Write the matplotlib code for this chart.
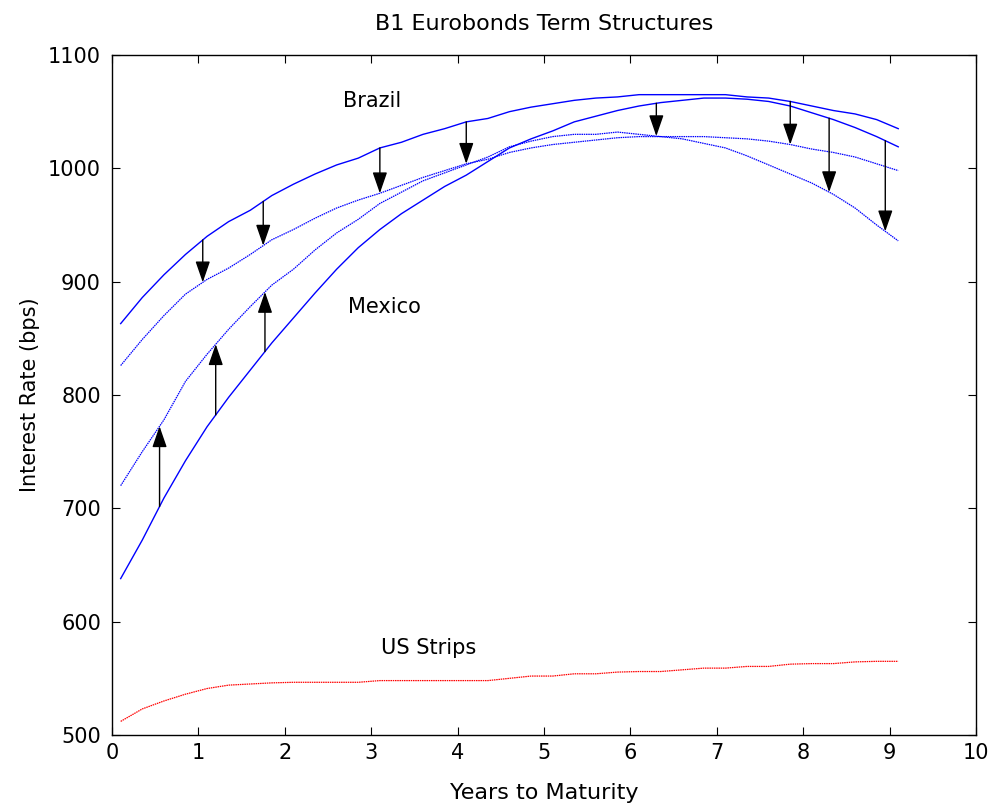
import numpy as np
import matplotlib.pyplot as plt

# Maturity grid (years)
years = np.array([0.1, 0.35, 0.6, 0.85, 1.1, 1.35, 1.6, 1.85, 2.1, 2.35, 2.6, 2.85,
                  3.1, 3.35, 3.6, 3.85, 4.1, 4.35, 4.6, 4.85, 5.1, 5.35, 5.6, 5.85,
                  6.1, 6.35, 6.6, 6.85, 7.1, 7.35, 7.6, 7.85, 8.1, 8.35, 8.6, 8.85, 9.1])

# Term structures, bps
brazil_old = [863, 886, 906, 924, 940, 953, 963, 976, 986, 995, 1003, 1009,
              1018, 1023, 1030, 1035, 1041, 1044, 1050, 1054, 1057, 1060, 1062, 1063,
              1065, 1065, 1065, 1065, 1065, 1063, 1062, 1059, 1055, 1051, 1048, 1043, 1035]
brazil_new = [826, 849, 870, 889, 902, 912, 924, 937, 946, 956, 965, 972,
              978, 985, 992, 998, 1004, 1008, 1014, 1018, 1021, 1023, 1025, 1027,
              1028, 1028, 1028, 1028, 1027, 1026, 1024, 1021, 1017, 1014, 1010, 1004, 998]
mexico_old = [638, 672, 709, 742, 772, 798, 822, 846, 868, 890, 911, 930,
              946, 960, 972, 984, 994, 1006, 1018, 1026, 1033, 1041, 1046, 1051,
              1055, 1058, 1060, 1062, 1062, 1061, 1059, 1055, 1049, 1043, 1036, 1028, 1019]
mexico_new = [720, 750, 778, 812, 836, 858, 878, 897, 911, 928, 943, 955,
              969, 979, 989, 996, 1003, 1010, 1019, 1024, 1028, 1030, 1030, 1032,
              1030, 1028, 1026, 1022, 1018, 1011, 1003, 995, 987, 977, 965, 950, 936]
us_strips = [512, 523, 530, 536, 541, 544, 545, 546, 546.5, 546.5, 546.5, 546.5,
             548, 548, 548, 548, 548, 548, 550, 552, 552, 554, 554, 555.5,
             556, 556, 557.5, 559, 559, 560.5, 560.5, 562.5, 563, 563, 564.5, 565, 565]

# Maturities where the shift arrows are drawn
brazil_arrow_x = [1.05, 1.75, 3.1, 4.1, 7.85]
mexico_arrow_x = [0.55, 1.2, 1.77, 6.3, 8.3, 8.95]

plt.rcParams['font.family'] = 'DejaVu Sans'
plt.rcParams['font.size'] = 15

fig = plt.figure(figsize=(9.95, 8.1), dpi=100)
ax = fig.add_axes([0.1126, 0.0926, 0.8683, 0.8395])

dot = (0, (1.2, 0.6))
ax.plot(years, brazil_old, color='blue', lw=1.0)
ax.plot(years, brazil_new, color='blue', lw=0.9, linestyle=dot)
ax.plot(years, mexico_old, color='blue', lw=1.0)
ax.plot(years, mexico_new, color='blue', lw=0.9, linestyle=dot)
ax.plot(years, us_strips, color='red', lw=0.9, linestyle=dot)

arrow_props = dict(arrowstyle='-|>,head_length=1.3,head_width=0.45', color='black',
                   lw=1.0, mutation_scale=10, shrinkA=0, shrinkB=0)
for xs, old, new in [(brazil_arrow_x, brazil_old, brazil_new),
                     (mexico_arrow_x, mexico_old, mexico_new)]:
    for x in xs:
        y0 = np.interp(x, years, old)
        y1 = np.interp(x, years, new)
        ax.annotate('', xy=(x, y1), xytext=(x, y0), arrowprops=arrow_props)

ax.text(3.01, 1059, 'Brazil', ha='center', va='center')
ax.text(3.15, 878, 'Mexico', ha='center', va='center')
ax.text(3.67, 577, 'US Strips', ha='center', va='center')

ax.set_xlim(0, 10)
ax.set_ylim(500, 1100)
ax.set_xticks(range(0, 11))
ax.set_yticks(range(500, 1101, 100))
ax.tick_params(direction='in', length=6, width=0.8, top=True, right=True)
ax.tick_params(axis='x', pad=6)
ax.tick_params(axis='y', pad=8)
for s in ax.spines.values():
    s.set_linewidth(1.0)

ax.set_title('B1 Eurobonds Term Structures', pad=18, fontsize=16)
ax.set_xlabel('Years to Maturity', labelpad=14, fontsize=16)
ax.set_ylabel('Interest Rate (bps)', labelpad=6)

fig.savefig('out.png', dpi=100)
